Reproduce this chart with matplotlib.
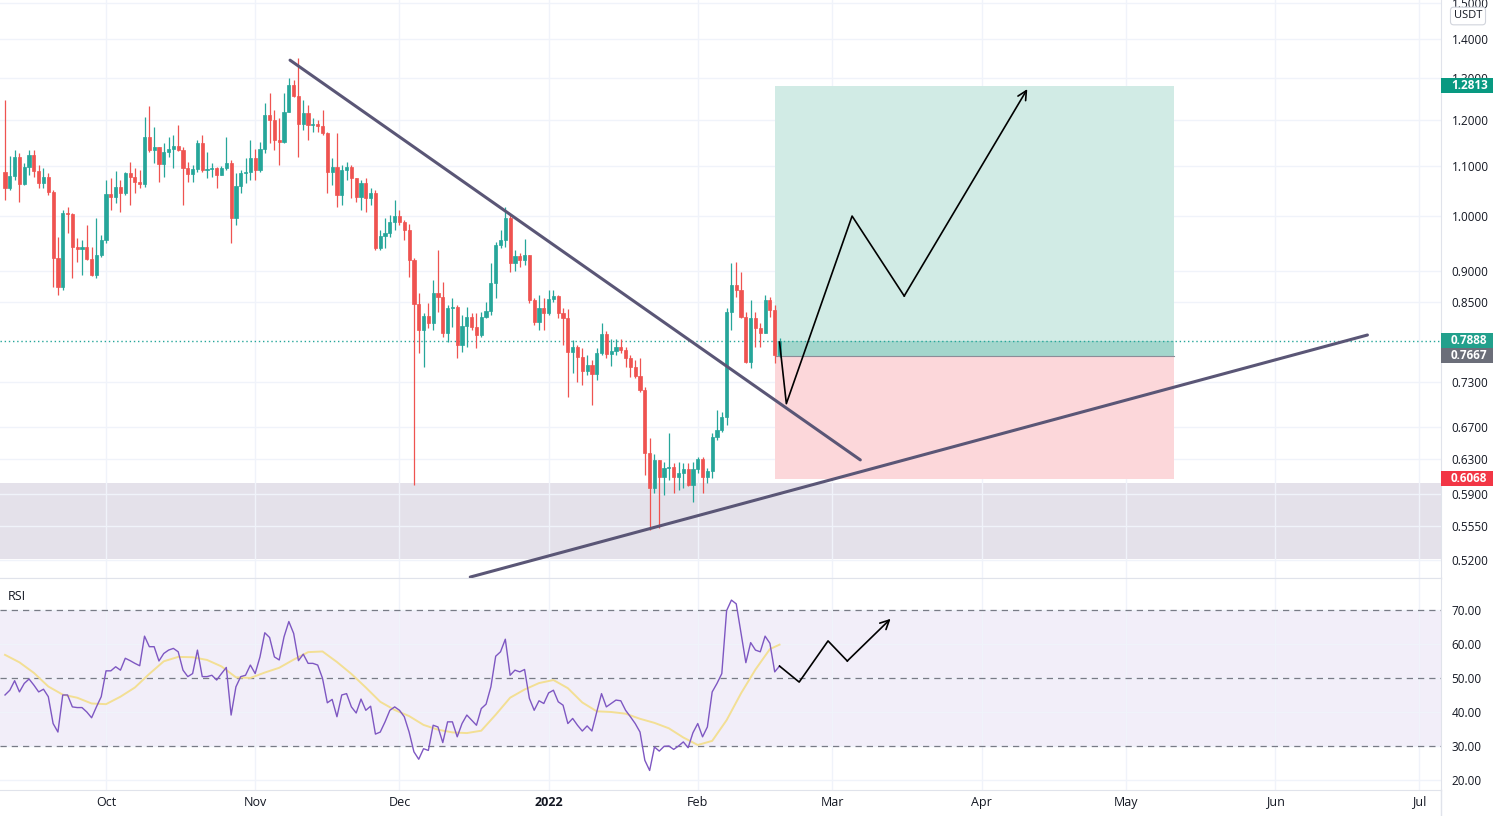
import matplotlib
matplotlib.use('Agg')
import matplotlib.pyplot as plt
import matplotlib.dates as mdates
import matplotlib.transforms as mtransforms
from matplotlib.patches import Rectangle
from matplotlib.lines import Line2D
from matplotlib.ticker import FormatStrFormatter, NullLocator
import pandas as pd

plt.rcParams['font.family'] = ['Open Sans', 'DejaVu Sans']

# daily candles, first one on 2021-09-10
start = '2021-09-10'
first_open = 1.087
closes = [
    1.055, 1.079, 1.119, 1.063, 1.098, 1.123, 1.089, 1.065, 1.077, 1.047,
    0.923, 0.874, 1.006, 1.004, 0.943, 0.939, 0.943, 0.921, 0.894, 0.929,
    0.955, 1.043, 1.037, 1.057, 1.045, 1.085, 1.077, 1.067, 1.063, 1.162,
    1.134, 1.140, 1.104, 1.130, 1.136, 1.143, 1.134, 1.096, 1.083, 1.094,
    1.149, 1.092, 1.094, 1.096, 1.081, 1.096, 1.106, 0.996, 1.059, 1.085,
    1.087, 1.117, 1.092, 1.136, 1.212, 1.200, 1.156, 1.151, 1.219, 1.283,
    1.256, 1.191, 1.216, 1.189, 1.191, 1.187, 1.171, 1.087, 1.098, 1.041,
    1.092, 1.098, 1.075, 1.037, 1.065, 1.035, 1.045, 0.941, 0.963, 0.968,
    0.989, 1.000, 0.989, 0.974, 0.920, 0.846, 0.805, 0.827, 0.816, 0.864,
    0.857, 0.801, 0.840, 0.841, 0.783, 0.811, 0.825, 0.810, 0.798, 0.825,
    0.835, 0.880, 0.946, 0.955, 0.996, 0.915, 0.927, 0.920, 0.929, 0.852,
    0.818, 0.840, 0.832, 0.854, 0.859, 0.832, 0.824, 0.772, 0.780, 0.765,
    0.745, 0.753, 0.741, 0.771, 0.799, 0.769, 0.774, 0.780, 0.775, 0.763,
    0.751, 0.738, 0.718, 0.637, 0.596, 0.629, 0.609, 0.619, 0.621, 0.609,
    0.614, 0.618, 0.600, 0.618, 0.630, 0.609, 0.616, 0.657, 0.666, 0.683,
    0.833, 0.877, 0.869, 0.825, 0.758, 0.824, 0.808, 0.801, 0.852, 0.837,
    0.768, 0.7888]
highs = [
    1.247, 1.120, 1.134, 1.127, 1.106, 1.134, 1.134, 1.102, 1.096, 1.085,
    1.051, 0.961, 1.012, 1.017, 1.006, 0.959, 0.955, 0.983, 0.943, 0.996,
    0.965, 1.071, 1.075, 1.089, 1.071, 1.087, 1.108, 1.096, 1.092, 1.207,
    1.233, 1.185, 1.140, 1.149, 1.162, 1.167, 1.189, 1.140, 1.108, 1.102,
    1.156, 1.167, 1.130, 1.106, 1.098, 1.100, 1.162, 1.112, 1.085, 1.092,
    1.117, 1.156, 1.136, 1.151, 1.240, 1.264, 1.223, 1.205, 1.264, 1.300,
    1.295, 1.350, 1.247, 1.235, 1.205, 1.200, 1.223, 1.173, 1.117, 1.171,
    1.102, 1.108, 1.102, 1.075, 1.071, 1.075, 1.055, 1.051, 0.974, 0.996,
    1.002, 1.031, 1.012, 0.992, 0.985, 0.923, 0.864, 0.832, 0.848, 0.885,
    0.937, 0.882, 0.844, 0.856, 0.844, 0.829, 0.841, 0.832, 0.832, 0.833,
    0.849, 0.915, 0.952, 0.974, 1.017, 1.002, 0.937, 0.932, 0.957, 0.929,
    0.856, 0.861, 0.856, 0.869, 0.869, 0.861, 0.840, 0.838, 0.790, 0.783,
    0.778, 0.768, 0.761, 0.778, 0.816, 0.804, 0.792, 0.792, 0.792, 0.780,
    0.768, 0.761, 0.763, 0.722, 0.656, 0.636, 0.629, 0.626, 0.662, 0.625,
    0.626, 0.625, 0.625, 0.626, 0.632, 0.632, 0.619, 0.662, 0.692, 0.689,
    0.840, 0.915, 0.916, 0.899, 0.833, 0.852, 0.833, 0.816, 0.861, 0.857,
    0.844, 0.793]
lows = [
    1.031, 1.051, 1.071, 1.027, 1.060, 1.081, 1.077, 1.055, 1.055, 1.041,
    0.874, 0.861, 0.869, 0.968, 0.889, 0.916, 0.894, 0.920, 0.892, 0.889,
    0.925, 0.950, 1.012, 1.025, 1.008, 1.041, 1.021, 1.045, 1.055, 1.057,
    1.130, 1.106, 1.067, 1.077, 1.119, 1.096, 1.132, 1.021, 1.067, 1.067,
    1.087, 1.087, 1.075, 1.077, 1.055, 1.081, 1.092, 0.950, 0.983, 1.045,
    1.065, 1.071, 1.071, 1.087, 1.127, 1.149, 1.134, 1.102, 1.149, 1.219,
    1.254, 1.119, 1.178, 1.156, 1.173, 1.173, 1.167, 1.045, 1.061, 1.017,
    1.021, 1.071, 1.035, 1.027, 1.012, 1.008, 1.021, 0.937, 0.937, 0.941,
    0.961, 0.974, 0.983, 0.955, 0.890, 0.600, 0.771, 0.751, 0.808, 0.805,
    0.833, 0.795, 0.787, 0.810, 0.763, 0.772, 0.780, 0.805, 0.778, 0.795,
    0.824, 0.829, 0.856, 0.941, 0.943, 0.899, 0.901, 0.908, 0.911, 0.848,
    0.813, 0.805, 0.805, 0.829, 0.849, 0.824, 0.783, 0.709, 0.742, 0.729,
    0.725, 0.739, 0.698, 0.732, 0.768, 0.763, 0.752, 0.768, 0.771, 0.751,
    0.736, 0.735, 0.716, 0.611, 0.551, 0.591, 0.553, 0.588, 0.605, 0.591,
    0.594, 0.596, 0.598, 0.581, 0.614, 0.591, 0.602, 0.608, 0.653, 0.663,
    0.672, 0.805, 0.857, 0.824, 0.756, 0.749, 0.780, 0.780, 0.801, 0.825,
    0.756, 0.765]
rsi = [
    45.0, 46.4, 49.2, 45.9, 48.4, 49.7, 47.9, 45.9, 46.7, 44.5,
    36.6, 34.1, 45.0, 45.0, 41.5, 41.3, 41.3, 40.0, 38.3, 41.5,
    44.5, 52.1, 52.1, 53.3, 52.3, 55.8, 55.1, 54.3, 53.6, 62.3,
    59.2, 59.2, 55.0, 57.2, 58.2, 58.7, 57.7, 52.3, 50.4, 51.3,
    58.2, 50.4, 50.4, 50.8, 49.4, 51.3, 53.1, 39.1, 47.4, 50.4,
    50.8, 53.8, 51.3, 56.2, 63.3, 61.9, 56.2, 55.3, 62.1, 66.6,
    63.1, 55.1, 57.0, 54.3, 54.3, 53.8, 49.9, 42.7, 43.7, 38.6,
    45.0, 45.4, 41.5, 39.7, 43.8, 40.5, 41.7, 33.5, 34.1, 37.1,
    40.5, 41.5, 40.5, 38.6, 34.1, 28.3, 26.1, 29.2, 28.7, 36.1,
    35.6, 31.0, 37.1, 37.1, 32.7, 36.6, 39.1, 37.6, 36.1, 41.0,
    42.3, 47.4, 56.4, 57.7, 61.4, 50.8, 52.3, 51.8, 52.5, 44.0,
    40.5, 43.3, 42.5, 45.6, 46.4, 43.0, 42.0, 36.6, 38.1, 36.1,
    34.4, 35.9, 34.4, 40.0, 45.4, 41.5, 42.5, 43.5, 43.3, 40.5,
    38.6, 36.6, 34.1, 25.8, 22.8, 29.7, 28.5, 29.9, 30.0, 29.0,
    30.0, 31.2, 29.5, 33.9, 36.6, 32.7, 35.6, 45.9, 48.4, 51.3,
    69.8, 72.9, 71.8, 63.1, 54.5, 60.4, 58.2, 57.7, 62.3, 60.2,
    51.8, 53.5]
# RSI-based moving average, read every third day
ma_days = [0, 3, 6, 9, 12, 15, 18, 21, 24, 27, 30, 33, 36, 39, 42, 45, 48, 51,
           54, 57, 60, 63, 66, 69, 72, 75, 78, 81, 84, 87, 90, 93, 96, 99, 102,
           105, 108, 111, 114, 117, 120, 123, 126, 129, 132, 135, 138, 141,
           144, 147, 150, 153, 156, 159, 161]
rsi_ma = [56.8, 54.6, 51.5, 47.5, 45.1, 44.2, 42.5, 42.3, 44.5, 47.2,
          51.2, 54.9, 56.2, 56.1, 55.3, 53.4, 50.2, 50.0, 51.6, 53.0,
          55.4, 57.6, 57.8, 54.7, 51.2, 47.2, 43.0, 40.6, 38.8, 36.2,
          34.8, 34.0, 33.8, 34.5, 39.2, 44.2, 46.6, 48.5, 49.4, 47.0,
          42.8, 40.2, 40.0, 39.5, 38.0, 36.8, 35.2, 32.5, 30.3, 31.5,
          37.6, 45.5, 52.5, 58.5, 59.8]

# drawings
desc_dates = ['2021-11-08 06:00', '2022-03-06 19:00']
desc_prices = [1.345, 0.629]
asc_dates = ['2021-12-15 17:00', '2022-06-20 05:00']
asc_prices = [0.5034, 0.7976]
zone_low, zone_high = 0.521, 0.602
box_start, box_end = '2022-02-17 02:00', '2022-05-10 22:00'
target, entry, stop, last_price = 1.2813, 0.7667, 0.6068, 0.7888
path_dates = ['2022-02-18', '2022-02-19 10:00', '2022-03-05 02:00',
              '2022-03-15 22:00', '2022-04-10 12:00']
path_prices = [0.787, 0.700, 1.000, 0.859, 1.273]
rsi_path_dates = ['2022-02-18', '2022-02-22 02:00', '2022-02-28 02:00',
                  '2022-03-04 02:00', '2022-03-13 02:00']
rsi_path_vals = [53.5, 48.8, 60.9, 55.0, 67.4]

price_ticks = [1.5, 1.4, 1.3, 1.2, 1.1, 1.0, 0.9, 0.85, 0.73, 0.67, 0.63,
               0.59, 0.555, 0.52]
rsi_ticks = [20, 30, 40, 50, 60, 70]
month_dates = ['2021-10-01', '2021-11-01', '2021-12-01', '2022-01-01',
               '2022-02-01', '2022-03-01', '2022-04-01', '2022-05-01',
               '2022-06-01', '2022-07-01']
month_labels = ['Oct', 'Nov', 'Dec', '2022', 'Feb', 'Mar', 'Apr', 'May',
                'Jun', 'Jul']


def dn(s):
    return mdates.date2num(pd.Timestamp(s))


UP, DOWN = '#26a69a', '#ef5350'
GRID = '#f0f3fa'
BORDER = '#e0e3eb'
TEXT = '#131722'

dates = pd.date_range(start, periods=len(closes), freq='D')
x = mdates.date2num(dates)
opens = [first_open] + closes[:-1]

W, H = 1496, 816
fig = plt.figure(figsize=(W / 100, H / 100), dpi=100)
ax = fig.add_axes([0, 1 - 578 / H, 1441 / W, 578 / H])
ax2 = fig.add_axes([0, 1 - 790 / H, 1441 / W, 212 / H])

xlim = (dn('2021-09-08 23:00'), dn('2022-07-05 12:00'))
mticks = [dn(d) for d in month_dates]

# ---------- price panel ----------
ax.set_yscale('log')
ax.set_xlim(xlim)
ax.set_ylim(0.5025, 1.508)
ax.set_axisbelow(True)
ax.set_xticks(mticks)
ax.tick_params(axis='x', labelbottom=False, length=0)
ax.yaxis.tick_right()
ax.set_yticks(price_ticks)
ax.yaxis.set_minor_locator(NullLocator())
ax.yaxis.set_major_formatter(FormatStrFormatter('%.4f'))
ax.tick_params(axis='y', length=0, pad=7.5, labelsize=8.5, labelcolor=TEXT)
ax.grid(color=GRID, lw=1)
for s in ('top', 'left'):
    ax.spines[s].set_visible(False)
for s in ('right', 'bottom'):
    ax.spines[s].set_color(BORDER)

ax.axhspan(zone_low, zone_high, color='#e4e1ea', lw=0, zorder=0.2)

b0, b1 = dn(box_start), dn(box_end)
ax.fill_between([b0, b1], entry, target, color='#d1ebe5', lw=0, zorder=1)
ax.fill_between([b0, b1], entry, last_price, color='#a3d6cc', lw=0, zorder=1.1)
ax.fill_between([b0, b1], stop, entry, color='#fcd7da', lw=0, zorder=1)
ax.plot([b0, b1], [entry, entry], color='#8a8d97', lw=0.8, zorder=1.2)

ax.axhline(last_price, color='#26a69a', lw=1, ls=(0, (1, 2)), zorder=1.5)

colors = [UP if c >= o else DOWN for o, c in zip(opens, closes)]
ax.vlines(x, lows, highs, colors=colors, lw=0.9, zorder=3)
ax.bar(x, [abs(c - o) for o, c in zip(opens, closes)],
       bottom=[min(o, c) for o, c in zip(opens, closes)],
       width=0.66, color=colors, edgecolor=colors, linewidth=0.5, zorder=3)

ax.plot([dn(d) for d in desc_dates], desc_prices, color='#5a5676', lw=2.2,
        zorder=4, solid_capstyle='round')
ax.plot([dn(d) for d in asc_dates], asc_prices, color='#5a5676', lw=2.2,
        zorder=4, solid_capstyle='round')

px = [dn(d) for d in path_dates]
ax.plot(px[:-1], path_prices[:-1], color='black', lw=1.2, zorder=5)
ax.annotate('', xy=(px[-1], path_prices[-1]), xytext=(px[-2], path_prices[-2]),
            arrowprops=dict(arrowstyle='->', color='black', lw=1.2,
                            mutation_scale=16, shrinkA=0, shrinkB=0), zorder=5)

# price labels on the scale (the 1.2813 box partly hides the 1.3000 tick, as in the source)
trans = mtransforms.blended_transform_factory(ax.transAxes, ax.transData)
f = 1.0142
for val, col in [(target, '#089981'), (last_price, '#22a08c'),
                 (entry, '#6b6e79'), (stop, '#f23645')]:
    ax.add_patch(Rectangle((1.0, val / f), 52 / 1441, val * f - val / f,
                           transform=trans, fc=col, ec='none', clip_on=False,
                           zorder=6))
    ax.text(1.0 + 10 / 1441, val, '%.4f' % val, transform=trans, color='white',
            fontsize=8.5, fontweight='bold', va='center', ha='left',
            clip_on=False, zorder=7)

fig.text(1468 / W, 1 - 16 / H, 'USDT', ha='center', va='center', fontsize=8,
         color=TEXT, bbox=dict(boxstyle='round,pad=0.3', fc='white',
                               ec='#d1d4dc', lw=0.8))

# ---------- RSI panel ----------
ax2.set_xlim(xlim)
ax2.set_ylim(17.06, 79.4)
ax2.set_axisbelow(True)
ax2.axhspan(30, 70, color='#f2eef9', lw=0, zorder=0.2)
ax2.set_xticks(mticks)
ax2.set_xticklabels(month_labels)
ax2.tick_params(axis='x', length=0, pad=4, labelsize=9, labelcolor=TEXT)
ax2.get_xticklabels()[3].set_fontweight('bold')
ax2.yaxis.tick_right()
ax2.set_yticks(rsi_ticks)
ax2.yaxis.set_major_formatter(FormatStrFormatter('%.2f'))
ax2.tick_params(axis='y', length=0, pad=7.5, labelsize=8.5, labelcolor=TEXT)
ax2.grid(color=GRID, lw=1)
ax2.spines['left'].set_visible(False)
for s in ('right', 'bottom', 'top'):
    ax2.spines[s].set_color(BORDER)

for v in (70, 50, 30):
    ax2.axhline(v, color='#787b86', lw=0.9, ls=(0, (5, 4)), zorder=1)

ax2.plot(mdates.date2num(dates[ma_days]), rsi_ma, color='#f3df94', lw=1.4,
         zorder=2)
ax2.plot(x, rsi, color='#7e57c2', lw=1.0, zorder=3)

rx = [dn(d) for d in rsi_path_dates]
ax2.plot(rx[:-1], rsi_path_vals[:-1], color='black', lw=1.2, zorder=5)
ax2.annotate('', xy=(rx[-1], rsi_path_vals[-1]),
             xytext=(rx[-2], rsi_path_vals[-2]),
             arrowprops=dict(arrowstyle='->', color='black', lw=1.2,
                             mutation_scale=16, shrinkA=0, shrinkB=0), zorder=5)

ax2.text(8 / 1441, 1 - 18 / 212, 'RSI', transform=ax2.transAxes, fontsize=9,
         color=TEXT, va='center', ha='left')

fig.add_artist(Line2D([1441 / W, 1441 / W], [0, 26 / H], color=BORDER, lw=1))

fig.savefig('out.png', dpi=100)
